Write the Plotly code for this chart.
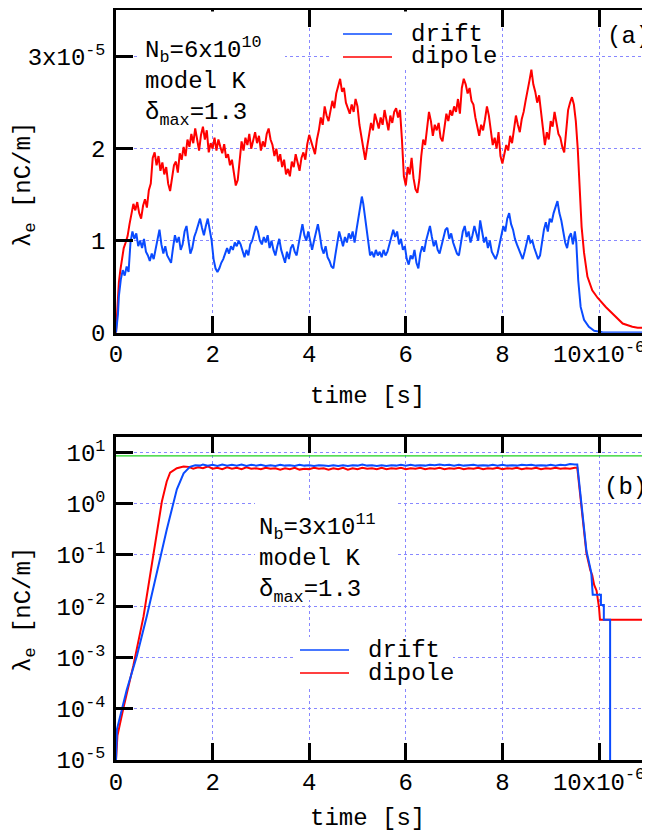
import plotly.graph_objects as go

# ---------------- data ----------------
# panel (a): time in units of 1e-6 s, lambda_e in units of 1e-5 nC/m
time_a_dipole = [
    0.00, 0.03, 0.06, 0.09, 0.12, 0.16, 0.20, 0.24, 0.28, 0.32,
    0.36, 0.40, 0.44, 0.48, 0.52, 0.56, 0.60, 0.64, 0.68, 0.72,
    0.76, 0.80, 0.84, 0.88, 0.92, 0.96, 1.00, 1.04, 1.08, 1.12,
    1.16, 1.20, 1.24, 1.28, 1.32, 1.36, 1.40, 1.44, 1.48, 1.52,
    1.56, 1.60, 1.64, 1.68, 1.72, 1.76, 1.80, 1.84, 1.88, 1.92,
    1.96, 2.00, 2.04, 2.08, 2.12, 2.16, 2.20, 2.24, 2.28, 2.32,
    2.36, 2.40, 2.44, 2.48, 2.52, 2.56, 2.60, 2.64, 2.68, 2.72,
    2.76, 2.80, 2.84, 2.88, 2.92, 2.96, 3.00, 3.04, 3.08, 3.12,
    3.16, 3.20, 3.24, 3.28, 3.32, 3.36, 3.40, 3.44, 3.48, 3.52,
    3.56, 3.60, 3.64, 3.68, 3.72, 3.76, 3.80, 3.84, 3.88, 3.92,
    3.96, 4.00, 4.04, 4.08, 4.12, 4.16, 4.20, 4.24, 4.28, 4.32,
    4.36, 4.40, 4.44, 4.48, 4.52, 4.56, 4.60, 4.64, 4.68, 4.72,
    4.76, 4.80, 4.84, 4.88, 4.92, 4.96, 5.00, 5.04, 5.08, 5.12,
    5.16, 5.20, 5.24, 5.28, 5.32, 5.36, 5.40, 5.44, 5.48, 5.52,
    5.56, 5.60, 5.64, 5.68, 5.72, 5.76, 5.80, 5.84, 5.88, 5.92,
    5.96, 6.00, 6.04, 6.08, 6.12, 6.16, 6.20, 6.24, 6.28, 6.32,
    6.36, 6.40, 6.44, 6.48, 6.52, 6.56, 6.60, 6.64, 6.68, 6.72,
    6.76, 6.80, 6.84, 6.88, 6.92, 6.96, 7.00, 7.04, 7.08, 7.12,
    7.16, 7.20, 7.24, 7.28, 7.32, 7.36, 7.40, 7.44, 7.48, 7.52,
    7.56, 7.60, 7.64, 7.68, 7.72, 7.76, 7.80, 7.84, 7.88, 7.92,
    7.96, 8.00, 8.04, 8.08, 8.12, 8.16, 8.20, 8.24, 8.28, 8.32,
    8.36, 8.40, 8.44, 8.48, 8.52, 8.56, 8.60, 8.64, 8.68, 8.72,
    8.76, 8.80, 8.84, 8.88, 8.92, 8.96, 9.00, 9.04, 9.08, 9.12,
    9.16, 9.20, 9.24, 9.28, 9.32, 9.36, 9.40, 9.44, 9.48, 9.52,
    9.56, 9.60, 9.64, 9.69, 9.76, 9.86, 9.97, 10.14, 10.35, 10.49,
    10.69, 10.80, 11.10]
lam_a_dipole = [
    0.00, 0.30, 0.55, 0.68, 0.80, 0.92, 0.98, 1.05, 1.18, 1.30,
    1.40, 1.33, 1.42, 1.30, 1.24, 1.38, 1.45, 1.36, 1.55, 1.62,
    1.90, 1.96, 1.82, 1.92, 1.76, 1.85, 1.72, 1.80, 1.62, 1.54,
    1.70, 1.82, 1.86, 1.74, 1.95, 1.88, 2.02, 1.92, 2.10, 2.02,
    2.16, 2.06, 2.22, 2.12, 1.98, 2.15, 2.24, 2.10, 2.20, 1.96,
    2.06, 2.00, 2.12, 1.98, 2.10, 2.02, 1.95, 2.05, 1.90, 1.94,
    1.82, 1.88, 1.72, 1.60, 1.66, 1.85, 2.08, 1.98, 2.12, 2.04,
    2.16, 2.00, 2.10, 2.18, 2.06, 2.14, 1.98, 2.08, 2.02, 2.16,
    2.22, 2.10, 2.04, 1.92, 2.00, 1.86, 1.94, 1.80, 1.88, 1.72,
    1.78, 1.70, 1.86, 1.80, 1.94, 1.84, 1.76, 1.90, 1.96, 1.88,
    2.05, 2.15, 2.08, 2.00, 1.94, 2.10, 2.20, 2.34, 2.26, 2.46,
    2.36, 2.30, 2.42, 2.52, 2.44, 2.60, 2.68, 2.76, 2.62, 2.66,
    2.50, 2.44, 2.38, 2.48, 2.40, 2.54, 2.46, 2.26, 2.12, 2.00,
    1.88, 2.02, 2.14, 2.28, 2.20, 2.38, 2.30, 2.22, 2.34, 2.26,
    2.42, 2.32, 2.20, 2.36, 2.28, 2.40, 2.44, 2.34, 2.42, 2.10,
    1.70, 1.60, 1.80, 1.72, 1.90, 1.68, 1.56, 1.52, 1.66, 1.92,
    2.10, 2.04, 2.22, 2.40, 2.30, 2.14, 2.26, 2.20, 2.28, 2.12,
    2.08, 2.26, 2.38, 2.30, 2.42, 2.36, 2.46, 2.40, 2.54, 2.38,
    2.66, 2.76, 2.70, 2.60, 2.66, 2.52, 2.48, 2.34, 2.22, 2.14,
    2.26, 2.20, 2.32, 2.46, 2.36, 2.18, 2.04, 2.12, 2.00, 2.18,
    1.92, 1.84, 1.96, 2.04, 1.98, 2.14, 2.06, 2.20, 2.36, 2.26,
    2.18, 2.32, 2.40, 2.52, 2.62, 2.74, 2.86, 2.70, 2.62, 2.50,
    2.58, 2.40, 2.20, 2.04, 2.18, 2.10, 2.30, 2.24, 2.40, 2.26,
    2.16, 2.12, 2.02, 1.96, 2.20, 2.42, 2.50, 2.56, 2.48, 2.30,
    2.00, 1.55, 1.15, 0.87, 0.61, 0.46, 0.38, 0.28, 0.17, 0.10,
    0.065, 0.055, 0.055]

time_a_drift = [
    0.00, 0.02, 0.04, 0.06, 0.08, 0.10, 0.14, 0.18, 0.22, 0.26,
    0.30, 0.34, 0.38, 0.42, 0.46, 0.50, 0.54, 0.58, 0.62, 0.66,
    0.70, 0.74, 0.78, 0.82, 0.86, 0.90, 0.94, 0.98, 1.02, 1.06,
    1.10, 1.14, 1.18, 1.22, 1.26, 1.30, 1.34, 1.38, 1.42, 1.46,
    1.50, 1.54, 1.58, 1.62, 1.66, 1.70, 1.74, 1.78, 1.82, 1.86,
    1.90, 1.94, 1.98, 2.02, 2.06, 2.10, 2.14, 2.18, 2.22, 2.26,
    2.30, 2.34, 2.38, 2.42, 2.46, 2.50, 2.54, 2.58, 2.62, 2.66,
    2.70, 2.74, 2.78, 2.82, 2.86, 2.90, 2.94, 2.98, 3.02, 3.06,
    3.10, 3.14, 3.18, 3.22, 3.26, 3.30, 3.34, 3.38, 3.42, 3.46,
    3.50, 3.54, 3.58, 3.62, 3.66, 3.70, 3.74, 3.78, 3.82, 3.86,
    3.90, 3.94, 3.98, 4.02, 4.06, 4.10, 4.14, 4.18, 4.22, 4.26,
    4.30, 4.34, 4.38, 4.42, 4.46, 4.50, 4.54, 4.58, 4.62, 4.66,
    4.70, 4.74, 4.78, 4.82, 4.86, 4.90, 4.94, 4.98, 5.02, 5.06,
    5.09, 5.12, 5.15, 5.18, 5.22, 5.26, 5.30, 5.34, 5.38, 5.42,
    5.46, 5.50, 5.54, 5.58, 5.62, 5.66, 5.70, 5.74, 5.78, 5.82,
    5.86, 5.90, 5.94, 5.98, 6.02, 6.06, 6.10, 6.14, 6.18, 6.22,
    6.26, 6.30, 6.34, 6.38, 6.42, 6.46, 6.50, 6.54, 6.58, 6.62,
    6.66, 6.70, 6.74, 6.78, 6.82, 6.86, 6.90, 6.94, 6.98, 7.02,
    7.06, 7.10, 7.14, 7.18, 7.22, 7.26, 7.30, 7.34, 7.38, 7.42,
    7.46, 7.50, 7.54, 7.58, 7.62, 7.66, 7.70, 7.74, 7.78, 7.82,
    7.86, 7.90, 7.94, 7.98, 8.02, 8.06, 8.10, 8.14, 8.18, 8.22,
    8.26, 8.30, 8.34, 8.38, 8.42, 8.46, 8.50, 8.54, 8.58, 8.62,
    8.66, 8.70, 8.74, 8.78, 8.82, 8.86, 8.90, 8.94, 8.98, 9.02,
    9.06, 9.10, 9.14, 9.18, 9.22, 9.26, 9.30, 9.34, 9.38, 9.42,
    9.46, 9.50, 9.53, 9.57, 9.62, 9.69, 9.79, 9.90, 10.07, 10.50,
    11.10]
lam_a_drift = [
    0.00, 0.10, 0.20, 0.40, 0.50, 0.58, 0.68, 0.62, 0.72, 0.66,
    0.98, 1.10, 1.02, 1.08, 0.94, 1.00, 0.92, 1.02, 0.88, 0.84,
    0.78, 0.86, 0.80, 0.92, 1.04, 1.12, 0.96, 0.86, 0.94, 0.84,
    0.80, 0.76, 0.92, 1.06, 0.98, 1.04, 0.90, 0.96, 1.10, 1.16,
    1.00, 0.86, 0.92, 1.04, 1.10, 1.18, 1.24, 1.14, 1.06, 1.16,
    1.24, 1.12, 1.00, 0.80, 0.70, 0.66, 0.70, 0.76, 0.80, 0.86,
    0.92, 0.86, 0.94, 0.90, 0.98, 0.94, 1.00, 0.96, 0.88, 0.82,
    0.90, 0.84, 0.96, 1.00, 1.08, 1.16, 1.10, 1.00, 0.96, 1.04,
    0.98, 1.06, 0.92, 1.00, 0.90, 0.84, 0.94, 1.02, 0.90, 0.82,
    0.76, 0.88, 0.80, 0.92, 0.96, 0.88, 0.84, 0.96, 1.08, 1.18,
    1.06, 1.00, 1.10, 0.98, 0.90, 1.00, 1.08, 1.18, 1.06, 0.92,
    0.86, 0.94, 0.82, 0.78, 0.72, 0.70, 0.84, 0.98, 1.10, 1.02,
    0.94, 1.04, 0.98, 1.08, 1.02, 1.10, 0.98, 1.12, 1.24, 1.36,
    1.48, 1.40, 1.28, 1.12, 0.94, 0.84, 0.88, 0.82, 0.90, 0.84,
    0.88, 0.82, 0.90, 0.84, 0.88, 0.96, 1.02, 1.12, 1.04, 1.10,
    0.96, 1.02, 0.90, 0.94, 0.80, 0.74, 0.84, 0.80, 0.90, 0.76,
    0.70, 0.86, 0.94, 0.88, 1.00, 1.08, 1.16, 1.04, 0.94, 1.00,
    0.90, 0.86, 0.94, 1.04, 1.12, 1.14, 1.02, 1.08, 0.98, 0.92,
    0.86, 0.84, 0.96, 1.10, 1.16, 1.04, 1.10, 0.98, 1.06, 1.16,
    1.08, 1.00, 1.22, 1.10, 0.98, 1.04, 0.92, 1.00, 0.88, 0.84,
    0.80, 0.86, 0.96, 1.06, 1.16, 1.10, 1.24, 1.30, 1.18, 1.12,
    1.02, 0.96, 0.90, 0.84, 0.80, 0.88, 0.96, 1.06, 0.98, 1.00,
    0.92, 0.86, 0.80, 0.84, 0.98, 1.12, 1.20, 1.10, 1.24, 1.20,
    1.30, 1.38, 1.43, 1.30, 1.22, 1.10, 0.98, 0.92, 1.04, 1.08,
    0.96, 1.10, 0.98, 0.57, 0.28, 0.14, 0.065, 0.02, 0.005, 0.003,
    0.003]

# panel (b): time in units of 1e-6 s, lambda_e in nC/m (log scale)
time_b_dipole = [
    0.00, 0.03, 0.15, 0.36, 0.57, 0.77, 0.95, 1.05, 1.12, 1.26, 1.40,
    1.5, 1.6, 1.7, 1.8, 1.9, 2.0, 2.1, 2.2, 2.3, 2.4,
    2.5, 2.6, 2.7, 2.8, 2.9, 3.0, 3.1, 3.2, 3.3, 3.4,
    3.5, 3.6, 3.7, 3.8, 3.9, 4.0, 4.1, 4.2, 4.3, 4.4,
    4.5, 4.6, 4.7, 4.8, 4.9, 5.0, 5.1, 5.2, 5.3, 5.4,
    5.5, 5.6, 5.7, 5.8, 5.9, 6.0, 6.1, 6.2, 6.3, 6.4,
    6.5, 6.6, 6.7, 6.8, 6.9, 7.0, 7.1, 7.2, 7.3, 7.4,
    7.5, 7.6, 7.7, 7.8, 7.9, 8.0, 8.1, 8.2, 8.3, 8.4,
    8.5, 8.6, 8.7, 8.8, 8.9, 9.0, 9.1, 9.2, 9.3, 9.4,
    9.5, 9.55, 9.74, 9.82, 9.86, 9.90, 9.95, 10.00, 10.02, 11.10]
lam_b_dipole = [
    1.0e-5, 3.0e-5, 1.0e-4, 7.0e-4, 6.3e-3, 0.107, 1.1, 2.7, 4.0, 4.9, 5.3,
    5.2, 4.8, 5.1, 4.9, 5.3, 4.8, 5.0, 4.7, 5.1, 4.8,
    5.0, 4.7, 5.1, 4.8, 4.9, 4.7, 5.0, 4.8, 4.9, 4.6,
    4.9, 4.7, 5.0, 4.6, 4.8, 4.7, 5.0, 4.8, 4.9, 4.6,
    4.9, 4.7, 5.0, 4.6, 4.9, 4.7, 5.0, 4.8, 4.9, 4.7,
    5.0, 4.7, 4.9, 4.8, 5.0, 4.7, 4.9, 4.8, 5.0, 4.7,
    4.9, 4.8, 5.0, 4.7, 4.9, 4.8, 5.0, 4.7, 4.9, 4.8,
    5.0, 4.7, 4.9, 4.8, 5.0, 4.7, 4.9, 4.8, 5.0, 4.7,
    4.9, 4.8, 5.0, 4.7, 4.9, 4.8, 5.0, 4.8, 4.9, 4.8,
    5.0, 5.0, 0.107, 0.05, 0.04, 0.026, 0.02, 0.0095, 0.0054, 0.0054]

time_b_drift = [
    0.00, 0.02, 0.22, 0.43, 0.64, 1.05, 1.26, 1.40, 1.53, 1.64, 1.74,
    1.8, 1.9, 2.0, 2.1, 2.2, 2.3, 2.4, 2.5, 2.6, 2.7,
    2.8, 2.9, 3.0, 3.1, 3.2, 3.3, 3.4, 3.5, 3.6, 3.7,
    3.8, 3.9, 4.0, 4.1, 4.2, 4.3, 4.4, 4.5, 4.6, 4.7,
    4.8, 4.9, 5.0, 5.1, 5.2, 5.3, 5.4, 5.5, 5.6, 5.7,
    5.8, 5.9, 6.0, 6.1, 6.2, 6.3, 6.4, 6.5, 6.6, 6.7,
    6.8, 6.9, 7.0, 7.1, 7.2, 7.3, 7.4, 7.5, 7.6, 7.7,
    7.8, 7.9, 8.0, 8.1, 8.2, 8.3, 8.4, 8.5, 8.6, 8.7,
    8.8, 8.9, 9.0, 9.1, 9.2, 9.3, 9.4, 9.5,
    9.55, 9.74, 9.84, 9.87, 10.04, 10.04, 10.10, 10.10, 10.23, 10.23]
lam_b_drift = [
    1.0e-5, 4.0e-5, 2.3e-4, 1.05e-3, 6.5e-3, 0.31, 1.9, 3.9, 5.2, 5.6, 5.5,
    5.8, 5.5, 5.7, 5.4, 5.8, 5.5, 5.7, 5.5, 5.8, 5.4,
    5.7, 5.5, 5.7, 5.4, 5.6, 5.4, 5.7, 5.5, 5.6, 5.4,
    5.7, 5.5, 5.6, 5.4, 5.6, 5.5, 5.4, 5.6, 5.4, 5.6,
    5.4, 5.6, 5.5, 5.8, 5.5, 5.6, 5.4, 5.6, 5.4, 5.6,
    5.5, 5.7, 5.5, 5.7, 5.5, 5.6, 5.5, 5.7, 5.6, 5.8,
    5.6, 5.7, 5.5, 5.7, 5.5, 5.6, 5.7, 5.5, 5.6, 5.5,
    5.7, 5.5, 5.7, 5.5, 5.6, 5.5, 5.7, 5.6, 5.7, 5.5,
    5.6, 5.5, 5.7, 5.5, 5.7, 5.6, 5.9, 5.8,
    5.8, 0.12, 0.045, 0.0166, 0.0166, 0.0105, 0.0105, 0.0054, 0.0054, 1.0e-6]

neutral_time = [0.0, 11.2]
neutral_level = [8.5, 8.5]

x_tickvals = [0, 2, 4, 6, 8, 10]
x_ticktext = ["0", "2", "4", "6", "8", "10x10<sup>-6</sup>"]
ya_tickvals = [0, 1, 2, 3]
ya_ticktext = ["0", "1", "2", "3x10<sup>-5</sup>"]
yb_tickvals = [1e-5, 1e-4, 1e-3, 1e-2, 1e-1, 1, 10]
yb_ticktext = ["10<sup>-5</sup>", "10<sup>-4</sup>", "10<sup>-3</sup>", "10<sup>-2</sup>",
               "10<sup>-1</sup>", "10<sup>0</sup>", "10<sup>1</sup>"]

# ---------------- style ----------------
# the page body adds an 8 px margin, so the figure is 8 px smaller
# and every position below is given in page pixels minus that offset
OFF = 8
W, H = 650 - OFF, 835 - OFF
FONT = "Liberation Mono, Courier New, monospace"
FS = 24
RED = "#ff0000"
BLUE = "#0a4bff"
GREEN = "#1ed21e"
GRID = "#8888ff"
LEFT = 116.0
A_TOP, A_BOT = 10.0, 332.7
B_TOP, B_BOT = 436.7, 760.0

def px(x):
    return (x - OFF) / W

def py(y):
    return 1 - (y - OFF) / H

fig = go.Figure()

fig.add_trace(go.Scatter(x=time_a_dipole, y=lam_a_dipole, name="dipole", mode="lines",
                         line=dict(color=RED, width=2), xaxis="x", yaxis="y"))
fig.add_trace(go.Scatter(x=time_a_drift, y=lam_a_drift, name="drift", mode="lines",
                         line=dict(color=BLUE, width=2), xaxis="x", yaxis="y"))
fig.add_trace(go.Scatter(x=neutral_time, y=neutral_level, name="neutralization", mode="lines",
                         line=dict(color=GREEN, width=1.3), xaxis="x2", yaxis="y2"))
fig.add_trace(go.Scatter(x=time_b_dipole, y=lam_b_dipole, name="dipole", mode="lines",
                         line=dict(color=RED, width=2), xaxis="x2", yaxis="y2"))
fig.add_trace(go.Scatter(x=time_b_drift, y=lam_b_drift, name="drift", mode="lines",
                         line=dict(color=BLUE, width=2), xaxis="x2", yaxis="y2"))

axis_style = dict(showline=True, linecolor="black", linewidth=2.5,
                  ticks="inside", ticklen=17, tickwidth=2.5, tickcolor="black",
                  showgrid=True, gridcolor=GRID, gridwidth=1, griddash="dot",
                  zeroline=False, automargin=False,
                  tickfont=dict(family=FONT, size=FS, color="black"))
right_ticks = dict(ticks="inside", ticklen=17, tickwidth=2.5, tickcolor="black",
                   showline=False, showgrid=False, zeroline=False,
                   showticklabels=False, automargin=False)

x_max = (650 - LEFT) / 48.3
xdom = [px(LEFT), 1.0]
adom = [py(A_BOT), py(A_TOP)]
bdom = [py(B_BOT), py(B_TOP)]
a_range = [0, (A_BOT - A_TOP) / 92.0]
b_range = [-5, 1 + (452.3 - B_TOP) / 51.28]

fig.update_layout(
    width=W, height=H, margin=dict(l=0, r=0, t=0, b=0),
    paper_bgcolor="white", plot_bgcolor="white", showlegend=False,
    font=dict(family=FONT, size=FS, color="black"),
    xaxis=dict(axis_style, domain=xdom, anchor="y", range=[0, x_max], mirror="ticks",
               tickmode="array", tickvals=x_tickvals, ticktext=x_ticktext, ticklabelstandoff=-2),
    yaxis=dict(axis_style, domain=adom, anchor="x", range=a_range,
               tickmode="array", tickvals=ya_tickvals, ticktext=ya_ticktext, ticklabelstandoff=3),
    yaxis3=dict(right_ticks, overlaying="y", side="right", anchor="x", range=a_range,
                tickmode="array", tickvals=ya_tickvals),
    xaxis2=dict(axis_style, domain=xdom, anchor="y2", range=[0, x_max], mirror="ticks",
                tickmode="array", tickvals=x_tickvals, ticktext=x_ticktext, ticklabelstandoff=-2),
    yaxis2=dict(axis_style, domain=bdom, anchor="x2", type="log", range=b_range,
                tickmode="array", tickvals=yb_tickvals, ticktext=yb_ticktext, ticklabelstandoff=3),
    yaxis4=dict(right_ticks, overlaying="y2", side="right", anchor="x2", type="log", range=b_range,
                tickmode="array", tickvals=yb_tickvals),
)

# white boxes behind the labels and keys hide the grid, as in the original
def blank(x0, x1, y0, y1):
    fig.add_shape(type="rect", xref="paper", yref="paper", layer="above",
                  x0=px(x0), x1=px(x1), y0=py(y1), y1=py(y0),
                  fillcolor="white", line=dict(width=0))

blank(138, 285, 11.5, 124)
blank(330, 500, 11.5, 70)
blank(255, 397, 500, 600)
blank(293, 453, 637, 688)

# keys
def key(x0, x1, y, color, label):
    fig.add_shape(type="line", xref="paper", yref="paper", x0=px(x0), x1=px(x1),
                  y0=py(y), y1=py(y), line=dict(color=color, width=1.3))
    fig.add_annotation(xref="paper", yref="paper", x=px(x1 + 17), y=py(y), text=label,
                       showarrow=False, xanchor="left", yanchor="middle",
                       font=dict(family=FONT, size=FS, color="black"))

key(343, 392, 34, BLUE, "drift")
key(343, 392, 57, RED, "dipole")
key(300, 349, 650, BLUE, "drift")
key(300, 349, 673, RED, "dipole")

def label(x, y, text, xanchor="left", angle=0):
    fig.add_annotation(xref="paper", yref="paper", x=px(x), y=py(y), text=text,
                       showarrow=False, xanchor=xanchor, yanchor="middle", align="left",
                       textangle=angle, font=dict(family=FONT, size=FS, color="black"))

label(143, 81, "N<sub>b</sub>=6x10<sup>10</sup><br>model K<br>δ<sub>max</sub>=1.3")
label(257, 558, "N<sub>b</sub>=3x10<sup>11</sup><br>model K<br>δ<sub>max</sub>=1.3")
label(605, 36, "(a)")
label(602, 487, "(b)")
label(368, 396, "time [s]", xanchor="center")
label(368, 818, "time [s]", xanchor="center")
label(25, 185, "λ<sub>e</sub> [nC/m]", xanchor="center", angle=-90)
label(25, 610, "λ<sub>e</sub> [nC/m]", xanchor="center", angle=-90)

fig.write_html("out.html")
